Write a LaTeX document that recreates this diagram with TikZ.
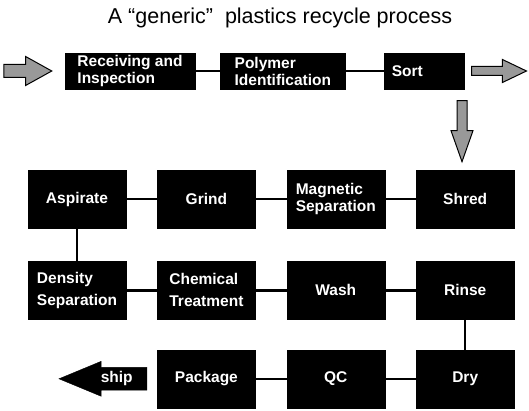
\documentclass[tikz,border=0pt]{standalone}
\usepackage{fontspec}
\setmainfont{Liberation Sans}
\usetikzlibrary{
    positioning,
    shapes.arrows
}

\begin{document}
\begin{tikzpicture}[x=1pt, y=-1pt,
    font=\bfseries\fontsize{15.5}{17}\selectfont,
    node distance=31pt,
    box/.style={
        rectangle,
        draw=black,
        fill=black,
        text=white,
        align=left,
        inner sep=2pt,
        minimum height=58pt,
        minimum width=98pt
    },
    flatbox/.style={
        box,
        minimum height=36pt
    },
    blockarr/.style={
        single arrow,
        draw=black,
        fill=black!40,
        line width=1pt,
        inner sep=0pt
    },
    shiparr/.style={
        single arrow,
        draw=black,
        fill=black,
        text=white,
        shape border rotate=180,
        single arrow head extend=6pt,
        single arrow tip angle=45,
        minimum height=88pt,
        inner xsep=8pt,
        inner ysep=4pt
    },
    link/.style={line width=2.5pt, black}
]
\useasboundingbox (0,0) rectangle (529,411);

% ===== title =====
\node[font=\fontsize{21.5}{24}\selectfont] (title) at (280,18)
    {A “generic”\ \ plastics recycle process};

% ===== ROW 1: intake =====
\node[flatbox, minimum width=130pt] (recv) at (130,71) {Receiving and\\Inspection};
\node[flatbox, minimum width=125pt, right=25pt of recv] (poly) {Polymer\\Identification};
\node[flatbox, minimum width=80pt, text width=64pt, right=38pt of poly] (sort) {Sort};

\node[blockarr, minimum height=48pt, inner ysep=6pt,
    single arrow head extend=8pt, single arrow tip angle=58,
    left=12pt of recv] (feed) {};
\node[blockarr, minimum height=55pt, inner ysep=4pt,
    single arrow head extend=7pt, single arrow tip angle=51,
    right=7pt of sort] (reject) {};
\node[blockarr, minimum height=61pt, inner xsep=4.5pt,
    single arrow head extend=6pt, single arrow tip angle=39,
    shape border rotate=270, anchor=tail]
    (down) at ([xshift=-2pt, yshift=-11pt]sort.south east) {};

\draw[link] (recv) -- (poly);
\draw[link] (poly) -- (sort);

% ===== ROW 2 =====
\node[box] (asp) at (77,199) {Aspirate};
\node[box, right=of asp] (grind) {Grind};
\node[box, right=of grind] (mag) {Magnetic\\Separation};
\node[box, right=of mag] (shred) {Shred};

\draw[link] (shred) -- (mag);
\draw[link] (mag) -- (grind);
\draw[link] (grind) -- (asp);

% ===== ROW 3 =====
\node[box, below=33pt of asp] (dens) {Density\\[5pt]Separation};
\node[box, right=of dens] (chem) {Chemical\\[5pt]Treatment};
\node[box, right=of chem] (wash) {Wash};
\node[box, right=of wash] (rinse) {Rinse};

\draw[link] (asp) -- (dens);
\draw[link] (dens) -- (chem);
\draw[link] (chem) -- (wash);
\draw[link] (wash) -- (rinse);

% ===== ROW 4: output =====
\node[box, below=30pt of rinse] (dry) {Dry};
\node[box, left=of dry] (qc) {QC};
\node[box, left=of qc] (pack) {Package};
\node[shiparr, left=10pt of pack] (ship) {ship};

\draw[link] (rinse) -- (dry);
\draw[link] (dry) -- (qc);
\draw[link] (qc) -- (pack);

\end{tikzpicture}
\end{document}
